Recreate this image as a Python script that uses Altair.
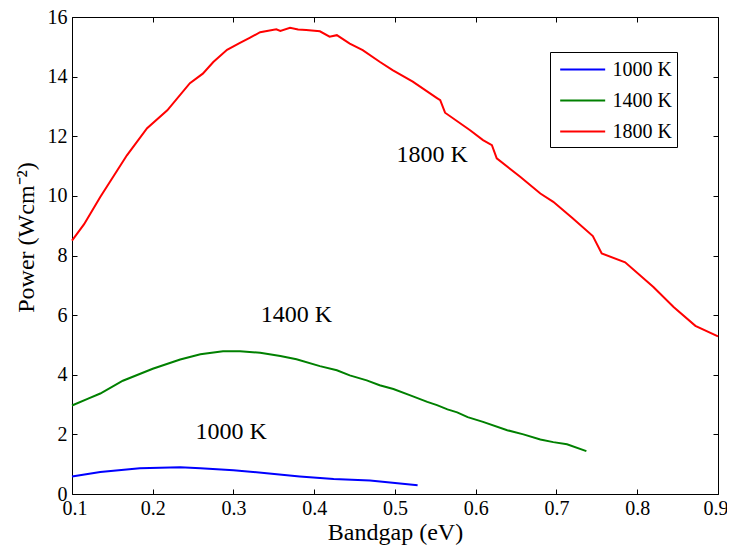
import altair as alt
import pandas as pd

# ---- data ----
series_names = ["1000 K", "1400 K", "1800 K"]
series_colors = ["#0000FF", "#008000", "#FF0000"]

blue_x = [0.100, 0.135, 0.184, 0.234, 0.259, 0.300, 0.341, 0.382, 0.424, 0.469, 0.528]
blue_y = [0.59, 0.74, 0.86, 0.90, 0.86, 0.80, 0.70, 0.59, 0.50, 0.45, 0.29]

green_x = [0.100, 0.120, 0.135, 0.163, 0.200, 0.234, 0.259, 0.287, 0.308, 0.333, 0.358,
           0.378, 0.407, 0.428, 0.444, 0.465, 0.481, 0.498, 0.519, 0.540, 0.552, 0.565,
           0.577, 0.590, 0.609, 0.639, 0.659, 0.680, 0.696, 0.713, 0.737]
green_y = [2.97, 3.20, 3.37, 3.80, 4.20, 4.51, 4.69, 4.79, 4.79, 4.74, 4.63,
           4.52, 4.29, 4.15, 3.98, 3.81, 3.65, 3.52, 3.31, 3.09, 2.98, 2.84,
           2.74, 2.58, 2.42, 2.14, 2.00, 1.83, 1.74, 1.67, 1.44]

red_x = [0.100, 0.115, 0.135, 0.168, 0.193, 0.218, 0.246, 0.262, 0.275, 0.292, 0.308,
         0.320, 0.333, 0.353, 0.358, 0.370, 0.380, 0.390, 0.407, 0.419, 0.428, 0.444,
         0.460, 0.481, 0.497, 0.522, 0.552, 0.556, 0.562, 0.593, 0.609, 0.620, 0.626,
         0.655, 0.680, 0.696, 0.720, 0.745, 0.756, 0.785, 0.820, 0.845, 0.872, 0.900]
red_y = [8.50, 9.05, 9.96, 11.36, 12.27, 12.87, 13.78, 14.10, 14.49, 14.90, 15.13,
         15.30, 15.49, 15.59, 15.53, 15.64, 15.58, 15.56, 15.52, 15.34, 15.39, 15.11,
         14.89, 14.50, 14.22, 13.83, 13.28, 13.21, 12.79, 12.20, 11.87, 11.70, 11.26,
         10.64, 10.08, 9.80, 9.25, 8.65, 8.07, 7.77, 6.94, 6.27, 5.64, 5.29]

label_text = ["1000 K", "1400 K", "1800 K"]
label_x = [0.297, 0.378, 0.546]
label_y = [2.07, 6.00, 11.36]

x_ticks = [0.1, 0.2, 0.3, 0.4, 0.5, 0.6, 0.7, 0.8, 0.9]
y_ticks = [0, 2, 4, 6, 8, 10, 12, 14, 16]

rows = []
for name, xs, ys in [("1000 K", blue_x, blue_y), ("1400 K", green_x, green_y), ("1800 K", red_x, red_y)]:
    for a, b in zip(xs, ys):
        rows.append({"series": name, "bandgap": a, "power": b})
df = pd.DataFrame(rows)
labels_df = pd.DataFrame({"text": label_text, "bandgap": label_x, "power": label_y})

FONT = "Liberation Serif"
xscale = alt.Scale(domain=[0.1, 0.9], nice=False)
yscale = alt.Scale(domain=[0, 16], nice=False)

common = dict(labelFont=FONT, labelFontSize=20, labelColor="black",
              titleFont=FONT, titleFontSize=24, titleFontWeight="normal", titleColor="black",
              tickColor="black", tickWidth=1, tickSize=5, offset=-5, domain=False, grid=False)

lines = alt.Chart(df).mark_line(strokeWidth=2).encode(
    x=alt.X("bandgap:Q", scale=xscale,
            axis=alt.Axis(orient="bottom", values=x_ticks, format=".1f", labelPadding=4,
                          labelFlush=True, labelFlushOffset=10,
                          title="Bandgap (eV)", titleY=50, titleBaseline="alphabetic",
                          **common)),
    y=alt.Y("power:Q", scale=yscale,
            axis=alt.Axis(orient="left", values=y_ticks, format="d", labelPadding=5,
                          labelFlush=False,
                          title="Power (Wcm⁻²)", titleX=-44, titleY=220,
                          titleAngle=-90, titleAlign="center", titleBaseline="alphabetic",
                          **common)),
    color=alt.Color("series:N",
                    scale=alt.Scale(domain=series_names, range=series_colors),
                    legend=alt.Legend(title=None, orient="none", legendX=478, legendY=35,
                                      strokeColor="black", fillColor="white", padding=5,
                                      rowPadding=8, symbolType="M-0.65,0L3.35,0", symbolSize=506,
                                      symbolStrokeWidth=2, labelFont=FONT, labelFontSize=20,
                                      labelColor="black", labelOffset=32.5, cornerRadius=0)),
)

frame = alt.Chart(df).mark_line(strokeOpacity=0).encode(
    x=alt.X("bandgap:Q", scale=xscale,
            axis=alt.Axis(orient="top", values=x_ticks, labels=False, title=None, **common)),
    y=alt.Y("power:Q", scale=yscale,
            axis=alt.Axis(orient="right", values=y_ticks, labels=False, title=None, **common)),
    detail="series:N",
)

texts = alt.Chart(labels_df).mark_text(font=FONT, fontSize=24, color="black",
                                       align="center", baseline="middle").encode(
    x=alt.X("bandgap:Q", scale=xscale, axis=None),
    y=alt.Y("power:Q", scale=yscale, axis=None),
    text="text:N",
)

chart = alt.layer(lines, frame, texts).resolve_axis(
    x="independent", y="independent"
).properties(
    width=646, height=477,
    background="white",
    autosize=alt.AutoSizeParams(type="none"),
    padding={"left": 64, "top": 9, "right": 9, "bottom": 51},
).configure_axis(
    labelFont=FONT, labelFontSize=20, labelColor="black",
    titleFont=FONT, titleFontSize=24, titleFontWeight="normal", titleColor="black",
    tickColor="black", tickWidth=1, grid=False,
).configure_view(
    stroke="black", strokeWidth=1
)

chart.save("out.html", embed_options={"renderer": "svg", "actions": False})
